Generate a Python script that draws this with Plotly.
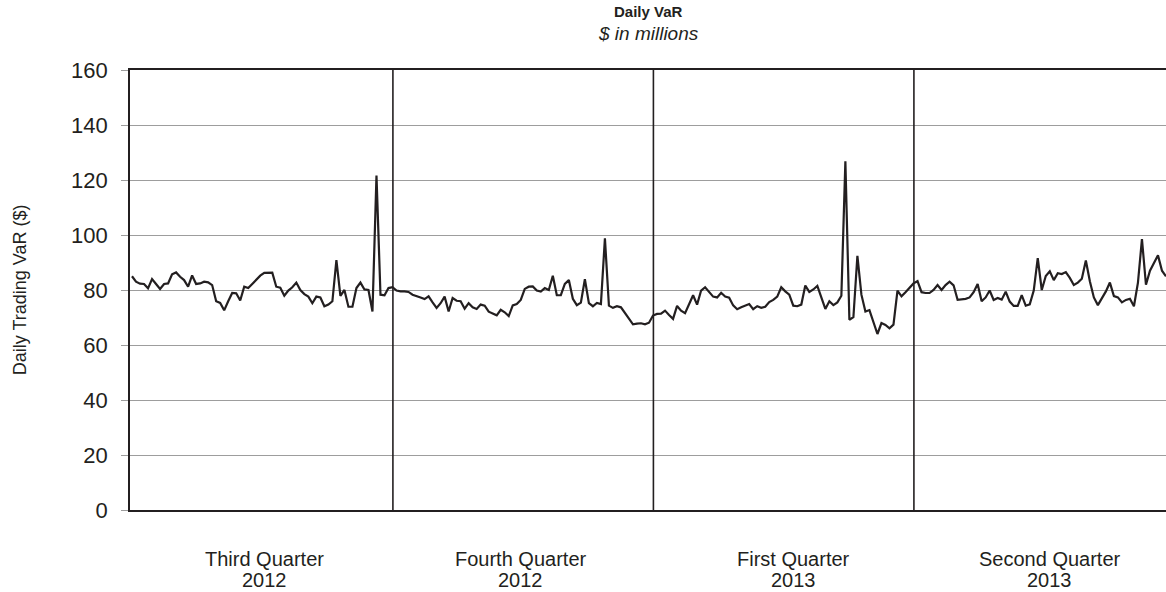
import plotly.graph_objects as go

# Daily trading VaR ($ millions), one value per trading day
q3_2012 = [85.0, 83.0, 82.3, 82.2, 80.6, 84.0, 82.2, 80.4, 82.2, 82.4, 85.7, 86.4, 84.8, 83.6,
           81.2, 85.3, 82.2, 82.4, 83.0, 82.8, 81.8, 75.9, 75.3, 72.6, 75.9, 78.9, 78.8, 76.2,
           81.2, 80.7, 82.2, 83.6, 85.2, 86.2, 86.2, 86.3, 81.2, 80.8, 77.9, 79.8, 81.0, 82.7,
           80.0, 78.5, 77.6, 75.2, 77.6, 77.3, 74.1, 74.7, 75.9, 90.9, 77.9, 80.0, 73.9, 73.9,
           80.7, 82.7, 80.2, 80.0, 72.2, 121.6, 78.3, 78.1, 80.7, 81.0]
q4_2012 = [79.8, 79.5, 79.5, 79.3, 78.3, 77.9, 77.3, 76.7, 77.7, 75.5, 73.5, 75.2, 77.6, 72.2,
           77.1, 76.1, 75.9, 73.2, 75.2, 73.7, 73.1, 74.7, 74.3, 72.1, 71.5, 70.8, 72.8, 71.9,
           70.5, 74.4, 74.9, 76.4, 80.4, 81.2, 81.3, 79.8, 79.4, 80.7, 80.0, 85.2, 78.1, 78.1,
           82.2, 83.6, 76.8, 74.5, 75.4, 83.9, 75.2, 74.1, 75.3, 74.9, 98.8, 74.3, 73.5, 74.1,
           73.7, 71.6, 69.7, 67.5, 67.8, 67.9, 67.5, 68.1, 70.7]
q1_2013 = [71.3, 71.4, 72.5, 70.9, 69.5, 74.2, 72.5, 71.6, 74.7, 78.1, 74.7, 79.8, 81.0, 79.3,
           77.6, 77.3, 79.0, 77.6, 77.2, 74.4, 73.0, 73.7, 74.2, 74.9, 73.0, 74.1, 73.5, 73.9,
           75.6, 76.4, 77.6, 81.0, 79.5, 78.3, 74.3, 74.1, 74.7, 81.6, 79.3, 80.2, 81.5, 77.3,
           73.1, 75.9, 74.5, 75.5, 77.9, 126.8, 69.2, 70.1, 92.4, 78.3, 72.2, 72.7, 68.2, 64.0,
           68.0, 67.3, 66.1, 67.4, 79.8, 77.7, 79.2, 80.7, 82.4]
q2_2013 = [83.2, 79.2, 78.9, 78.9, 80.0, 81.8, 80.0, 81.8, 83.0, 81.7, 76.4, 76.6, 76.8, 77.3,
           79.2, 82.2, 75.9, 77.3, 79.8, 76.4, 77.1, 76.5, 79.4, 75.8, 74.2, 74.2, 78.1, 74.3,
           74.8, 79.8, 91.6, 80.0, 85.1, 86.8, 83.6, 86.1, 85.8, 86.5, 84.4, 81.8, 82.7, 84.1,
           90.7, 83.2, 77.3, 74.5, 76.8, 79.5, 82.7, 77.8, 77.3, 75.5, 76.4, 76.8, 74.1, 82.7,
           98.5, 81.9, 87.0, 89.7, 92.6, 87.0, 85.0]

quarters = [q3_2012, q4_2012, q1_2013, q2_2013]
quarter_names = ["Third Quarter", "Fourth Quarter", "First Quarter", "Second Quarter"]
quarter_years = ["2012", "2012", "2013", "2013"]
y_ticks = [0, 20, 40, 60, 80, 100, 120, 140, 160]

values = [v for q in quarters for v in q]
days = list(range(len(values)))

# quarter boundaries (index of last day of each quarter) and label centres
bounds = []
acc = 0
for q in quarters[:-1]:
    acc += len(q)
    bounds.append(acc - 1 + 0.1)
label_pos = [33, 97, 165, 229]

DARK = "#231f20"
FONT = "Liberation Sans, Arial, sans-serif"

fig = go.Figure()
fig.add_trace(go.Scatter(x=days, y=values, mode="lines",
                         line=dict(color=DARK, width=2.2), hoverinfo="y"))

for b in bounds:
    fig.add_shape(type="line", xref="x", yref="y", x0=b, x1=b, y0=0, y1=160,
                  line=dict(color=DARK, width=1.6))

for pos, name, yr in zip(label_pos, quarter_names, quarter_years):
    fig.add_annotation(x=pos, y=0, xref="x", yref="y", text=name, showarrow=False,
                       yanchor="middle", yshift=-49, font=dict(family=FONT, size=20, color=DARK))
    fig.add_annotation(x=pos, y=0, xref="x", yref="y", text=yr, showarrow=False,
                       yanchor="middle", yshift=-70, font=dict(family=FONT, size=20, color=DARK))

fig.add_annotation(x=0.5, y=1.132, xref="paper", yref="paper", text="<b>Daily VaR</b>",
                   showarrow=False, yanchor="middle", font=dict(family=FONT, size=15, color=DARK))
fig.add_annotation(x=0.5, y=1.082, xref="paper", yref="paper", text="<i>$ in millions</i>",
                   showarrow=False, yanchor="middle", font=dict(family=FONT, size=19, color=DARK))
fig.add_annotation(x=-0.106, y=0.5, xref="paper", yref="paper", text="Daily Trading VaR ($)",
                   textangle=-90, showarrow=False, xanchor="center", yanchor="middle",
                   font=dict(family=FONT, size=18, color=DARK))

fig.update_layout(
    width=1166, height=592,
    margin=dict(l=130, r=0, t=70, b=82),
    paper_bgcolor="white", plot_bgcolor="white",
    showlegend=False,
    font=dict(family=FONT, color=DARK),
)
fig.update_xaxes(range=[-0.5, len(values) - 1], showgrid=False, zeroline=False,
                 showticklabels=False, ticks="", showline=True, linecolor=DARK,
                 linewidth=1.6, mirror=True)
fig.update_yaxes(range=[0, 160], tickvals=y_ticks, showgrid=True, gridcolor="#9d9d9d",
                 gridwidth=1, zeroline=False, showline=True, linecolor=DARK, linewidth=1.6,
                 ticks="outside", ticklen=7, tickcolor="#9d9d9d", tickwidth=1,
                 ticklabelstandoff=9, tickfont=dict(family=FONT, size=22, color=DARK))

fig.write_html("out.html", config={"displayModeBar": False},
               post_script="document.body.style.margin='0';document.body.style.overflow='hidden';")
